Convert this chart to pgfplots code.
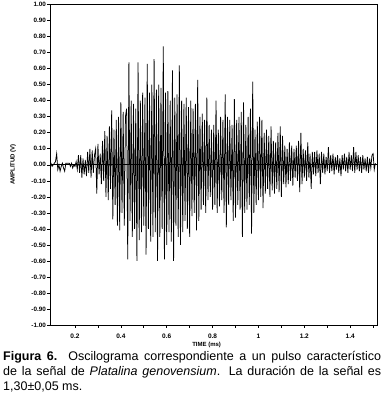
\documentclass[border=0pt]{standalone}
\usepackage{pgfplots}
\pgfplotsset{compat=1.18}
\usepackage{fontspec}
\setmainfont{Liberation Sans}
\begin{document}
\begin{tikzpicture}[x=1pt,y=1pt]
\path[use as bounding box] (0,0) rectangle (387,398);
\begin{axis}[
  at={(50pt,73pt)}, anchor=south west,
  scale only axis, width=327pt, height=321pt,
  xmin=0.091, xmax=1.517, ymin=-1.0, ymax=1.004,
  axis line style={black, line width=0.8pt},
  tick pos=left, tick align=outside,
  major tick length=3pt,
  tick style={black, line width=0.6pt},
  xtick={0.2,0.3,0.4,0.5,0.6,0.7,0.8,0.9,1.0,1.1,1.2,1.3,1.4,1.5},
  xticklabels={0.2,,0.4,,0.6,,0.8,,1,,1.2,,1.4,},
  ytick={-1,-0.9,-0.8,-0.7,-0.6,-0.5,-0.4,-0.3,-0.2,-0.1,0,0.1,0.2,0.3,0.4,0.5,0.6,0.7,0.8,0.9,1},
  /pgf/number format/assume math mode=true,
  yticklabel style={/pgf/number format/fixed, /pgf/number format/fixed zerofill, /pgf/number format/precision=2, font=\fontsize{6.3}{7}\selectfont\bfseries, inner sep=1pt},
  xticklabel style={font=\fontsize{6.5}{7}\selectfont\bfseries, yshift=-2.5pt},
  scaled y ticks=false,
  xlabel={TIME (ms)}, ylabel={AMPLITUD (V)},
  xlabel style={at={(axis description cs:0.479,-0.061)}, anchor=center, font=\fontsize{6}{7}\selectfont\bfseries},
  ylabel style={at={(axis description cs:-0.113,0.5)}, anchor=center, font=\fontsize{6}{7}\selectfont\bfseries},
]
\addplot[black, line width=0.9pt] coordinates {(0.091,0) (1.517,0)};
\addplot[black, line width=0.75pt] coordinates {
(0.090,0.00) (0.095,0.01) (0.100,-0.01) (0.105,0.00) (0.110,0.01) (0.115,0.02) (0.120,0.07) (0.125,-0.03) (0.130,0.00) (0.135,-0.04)
(0.140,-0.01) (0.145,0.01) (0.150,-0.02) (0.155,-0.04) (0.160,0.01) (0.165,0.01) (0.170,0.01) (0.175,0.01) (0.180,-0.01) (0.185,0.01)
(0.190,-0.02) (0.195,0.00) (0.200,-0.01) (0.205,0.02) (0.210,-0.03) (0.215,0.06) (0.220,-0.05) (0.225,0.06) (0.230,-0.08) (0.235,0.04)
(0.240,-0.06) (0.245,0.03) (0.250,-0.07) (0.255,0.08) (0.260,-0.05) (0.265,0.10) (0.270,-0.08) (0.275,0.09) (0.280,-0.05) (0.285,0.06)
(0.290,0.10) (0.295,-0.18) (0.300,0.13) (0.305,-0.06) (0.310,0.07) (0.315,-0.12) (0.320,0.15) (0.325,-0.10) (0.330,0.21) (0.335,-0.20)
(0.340,0.18) (0.345,-0.22) (0.350,0.24) (0.355,-0.15) (0.360,0.34) (0.365,-0.34) (0.370,0.22) (0.375,-0.25) (0.380,0.28) (0.385,-0.38)
(0.390,0.30) (0.395,-0.41) (0.400,0.39) (0.405,-0.30) (0.410,0.33) (0.415,-0.38) (0.420,0.30) (0.425,0.35) (0.430,-0.59) (0.435,0.64)
(0.440,-0.35) (0.445,0.40) (0.450,-0.45) (0.455,0.38) (0.460,-0.40) (0.465,0.35) (0.470,-0.60) (0.475,0.64) (0.480,-0.47) (0.485,0.40)
(0.490,-0.42) (0.495,0.45) (0.500,-0.38) (0.505,0.42) (0.510,-0.56) (0.515,0.63) (0.520,-0.40) (0.525,0.45) (0.530,-0.48) (0.535,0.50)
(0.540,-0.45) (0.545,0.66) (0.550,-0.42) (0.555,0.47) (0.560,-0.60) (0.565,0.50) (0.570,-0.45) (0.575,0.48) (0.580,-0.40) (0.585,0.74)
(0.590,-0.59) (0.595,0.45) (0.600,-0.50) (0.605,0.46) (0.610,-0.42) (0.615,0.40) (0.620,-0.48) (0.625,0.59) (0.630,-0.60) (0.635,0.42)
(0.640,-0.38) (0.645,0.44) (0.650,-0.45) (0.655,0.62) (0.660,-0.50) (0.665,0.40) (0.670,-0.42) (0.675,0.38) (0.680,-0.35) (0.685,0.42)
(0.690,-0.40) (0.695,0.36) (0.700,-0.45) (0.705,0.40) (0.710,-0.32) (0.715,0.35) (0.720,-0.30) (0.725,0.38) (0.730,-0.41) (0.735,0.53)
(0.740,-0.35) (0.745,0.30) (0.750,-0.28) (0.755,0.32) (0.760,-0.25) (0.765,0.28) (0.770,-0.30) (0.775,0.42) (0.780,-0.22) (0.785,0.25)
(0.790,-0.20) (0.795,0.22) (0.800,-0.28) (0.805,0.25) (0.810,-0.25) (0.815,0.40) (0.820,-0.30) (0.825,0.22) (0.830,-0.26) (0.835,0.30)
(0.840,-0.22) (0.845,0.28) (0.850,-0.30) (0.855,0.44) (0.860,-0.39) (0.865,0.30) (0.870,-0.25) (0.875,0.28) (0.880,-0.22) (0.885,0.25)
(0.890,-0.35) (0.895,0.41) (0.900,-0.33) (0.905,0.28) (0.910,-0.25) (0.915,0.30) (0.920,-0.28) (0.925,0.33) (0.930,-0.45) (0.935,0.39)
(0.940,-0.30) (0.945,0.25) (0.950,-0.28) (0.955,0.30) (0.960,-0.25) (0.965,0.35) (0.970,-0.43) (0.975,0.52) (0.980,-0.30) (0.985,0.22)
(0.990,-0.25) (0.995,0.27) (1.000,-0.22) (1.005,0.30) (1.010,-0.20) (1.015,0.28) (1.020,-0.27) (1.025,0.20) (1.030,-0.18) (1.035,0.22)
(1.040,-0.15) (1.045,0.18) (1.050,-0.20) (1.055,0.24) (1.060,-0.16) (1.065,0.15) (1.070,-0.18) (1.075,0.14) (1.080,-0.15) (1.085,0.20)
(1.090,-0.17) (1.095,0.24) (1.100,-0.20) (1.105,0.18) (1.110,-0.12) (1.115,0.12) (1.120,-0.14) (1.125,0.10) (1.130,-0.12) (1.135,0.14)
(1.140,-0.10) (1.145,0.12) (1.150,-0.13) (1.155,0.10) (1.160,-0.08) (1.165,0.12) (1.170,-0.10) (1.175,0.15) (1.180,-0.17) (1.185,0.20)
(1.190,-0.12) (1.195,0.10) (1.200,-0.08) (1.205,0.09) (1.210,-0.10) (1.215,0.14) (1.220,-0.08) (1.225,0.07) (1.230,-0.15) (1.235,0.08)
(1.240,-0.06) (1.245,0.08) (1.250,-0.07) (1.255,0.09) (1.260,-0.05) (1.265,0.07) (1.270,-0.12) (1.275,0.08) (1.280,-0.05) (1.285,0.07)
(1.290,-0.06) (1.295,0.05) (1.300,-0.04) (1.305,0.11) (1.310,-0.05) (1.315,0.06) (1.320,-0.04) (1.325,0.07) (1.330,-0.06) (1.335,0.05)
(1.340,-0.03) (1.345,0.06) (1.350,-0.05) (1.355,0.04) (1.360,-0.07) (1.365,0.06) (1.370,-0.03) (1.375,0.07) (1.380,-0.04) (1.385,0.05)
(1.390,-0.05) (1.395,0.08) (1.400,-0.03) (1.405,0.06) (1.410,-0.04) (1.415,0.11) (1.420,-0.05) (1.425,0.08) (1.430,-0.03) (1.435,0.06)
(1.440,-0.04) (1.445,0.05) (1.450,-0.05) (1.455,0.06) (1.460,-0.03) (1.465,0.04) (1.470,-0.04) (1.475,0.05) (1.480,-0.05) (1.485,0.04)
(1.490,-0.02) (1.495,0.06) (1.500,0.07) (1.505,-0.03) (1.510,0.01)
};
\end{axis}
\begin{scope}[every node/.style={anchor=base west, inner sep=0pt, font=\fontsize{12.5}{15}\selectfont}]
\node at (3,37.3) {\makebox[378pt][s]{\textbf{Figura 6.} Oscilograma correspondiente a un pulso característico}};
\node at (3,22) {\makebox[378pt][s]{de la señal de \textit{Platalina genovensium}. La duración de la señal es}};
\node at (3,7) {1,30±0,05 ms.};
\end{scope}
\end{tikzpicture}
\end{document}
